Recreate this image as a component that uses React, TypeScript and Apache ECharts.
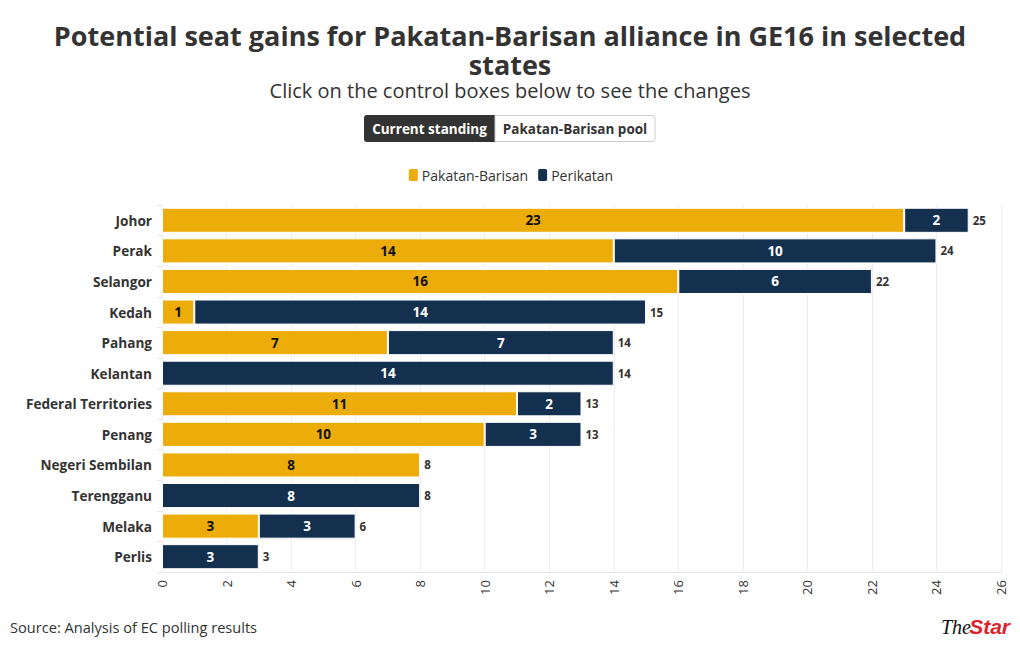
import React, { useEffect, useRef } from "react";
import * as echarts from "echarts";

const states = [
  "Johor", "Perak", "Selangor", "Kedah", "Pahang", "Kelantan",
  "Federal Territories", "Penang", "Negeri Sembilan", "Terengganu", "Melaka", "Perlis",
];
const pakatanBarisan = [23, 14, 16, 1, 7, 0, 11, 10, 8, 0, 3, 0];
const perikatan = [2, 10, 6, 14, 7, 14, 2, 3, 0, 8, 3, 3];
const totals = states.map((_, i) => pakatanBarisan[i] + perikatan[i]);

const GOLD = "#ecac09";
const NAVY = "#13304f";
const FONT = "'Open Sans', 'Noto Sans', sans-serif";

export default function App() {
  const ref = useRef<HTMLDivElement>(null);
  useEffect(() => {
    if (!ref.current) return;
    const chart = echarts.init(ref.current, undefined, { renderer: "svg" });
    chart.setOption({
      animation: false,
      backgroundColor: "#ffffff",
      textStyle: { fontFamily: FONT },
      title: [
        {
          text: "Source: Analysis of EC polling results",
          left: 5,
          top: 614,
          textStyle: { fontSize: 14.6, fontWeight: "normal", color: "#333333", fontFamily: FONT },
        },
      ],
      legend: {
        data: ["Pakatan-Barisan", "Perikatan"],
        top: 162,
        left: "center",
        icon: "roundRect",
        itemWidth: 11,
        itemHeight: 14,
        itemGap: 8,
        textStyle: { fontSize: 14, color: "#333333", fontFamily: FONT, padding: [0, 0, 0, -2] },
      },
      graphic: [
        {
          type: "text",
          x: 510,
          y: 35,
          style: {
            text: "Potential seat gains for Pakatan-Barisan alliance in GE16 in selected",
            fill: "#333333",
            font: `bold 27px ${FONT}`,
            align: "center",
            verticalAlign: "middle",
          },
        },
        {
          type: "text",
          x: 510,
          y: 64,
          style: {
            text: "states",
            fill: "#333333",
            font: `bold 27px ${FONT}`,
            align: "center",
            verticalAlign: "middle",
          },
        },
        {
          type: "text",
          x: 510,
          y: 90,
          style: {
            text: "Click on the control boxes below to see the changes",
            fill: "#333333",
            font: `20px ${FONT}`,
            align: "center",
            verticalAlign: "middle",
          },
        },
        {
          type: "rect",
          shape: { x: 364, y: 115, width: 131, height: 27, r: [3, 0, 0, 3] },
          style: { fill: "#333333" },
        },
        {
          type: "text",
          x: 429.5,
          y: 128.5,
          style: { text: "Current standing", fill: "#ffffff", font: `bold 13.5px ${FONT}`, align: "center", verticalAlign: "middle" },
        },
        {
          type: "rect",
          shape: { x: 495, y: 115.5, width: 160, height: 26, r: [0, 3, 3, 0] },
          style: { fill: "#ffffff", stroke: "#cccccc", lineWidth: 1 },
        },
        {
          type: "text",
          x: 575,
          y: 128.5,
          style: { text: "Pakatan-Barisan pool", fill: "#333333", font: `bold 13.5px ${FONT}`, align: "center", verticalAlign: "middle" },
        },
        {
          type: "text",
          x: 971,
          y: 627,
          style: { text: "The", fill: "#111111", font: `italic 20px 'Liberation Serif', serif`, align: "right", verticalAlign: "middle" },
        },
        {
          type: "text",
          x: 1010,
          y: 626,
          style: { text: "Star", fill: "#e0202a", font: `italic bold 21px 'Liberation Sans Narrow', 'Liberation Sans', sans-serif`, align: "right", verticalAlign: "middle" },
        },
      ],
      grid: { left: 162, right: 19, top: 205, bottom: 78 },
      xAxis: {
        type: "value",
        min: 0,
        max: 26,
        interval: 2,
        axisLine: { show: true, lineStyle: { color: "#e6e6e6" } },
        axisTick: { show: false },
        splitLine: { show: true, lineStyle: { color: "#eeeeee" } },
        axisLabel: { rotate: 90, fontSize: 13, color: "#333333", fontFamily: FONT, margin: 8 },
      },
      yAxis: {
        type: "category",
        data: states,
        inverse: true,
        axisLine: { show: false },
        axisTick: { show: true, length: 5, lineStyle: { color: "#e6e6e6" } },
        axisLabel: { fontSize: 13.6, fontWeight: "bold", color: "#333333", fontFamily: FONT, margin: 10 },
      },
      series: [
        {
          name: "Pakatan-Barisan",
          type: "bar",
          stack: "s",
          data: pakatanBarisan,
          barWidth: "82%",
          itemStyle: { color: GOLD, borderColor: "#ffffff", borderWidth: 1 },
          label: {
            show: true,
            position: "inside",
            fontSize: 13.5,
            fontWeight: "bold",
            color: "#111111",
            fontFamily: FONT,
            formatter: (p: any) => (p.value ? String(p.value) : ""),
          },
        },
        {
          name: "Perikatan",
          type: "bar",
          stack: "s",
          data: perikatan,
          itemStyle: { color: NAVY, borderColor: "#ffffff", borderWidth: 1 },
          label: {
            show: true,
            position: "inside",
            fontSize: 13.5,
            fontWeight: "bold",
            color: "#ffffff",
            fontFamily: FONT,
            formatter: (p: any) => (p.value ? String(p.value) : ""),
          },
        },
        {
          name: "Total",
          type: "bar",
          stack: "s",
          data: totals.map(() => 0),
          itemStyle: { color: "transparent" },
          label: {
            show: true,
            position: "right",
            distance: 4,
            fontSize: 11.5,
            fontWeight: "bold",
            color: "#333333",
            fontFamily: FONT,
            formatter: (p: any) => String(totals[p.dataIndex]),
          },
        },
      ],
    });
    return () => chart.dispose();
  }, []);
  return <div ref={ref} style={{ position: "absolute", left: 0, top: 0, width: 1020, height: 650 }} />;
}
